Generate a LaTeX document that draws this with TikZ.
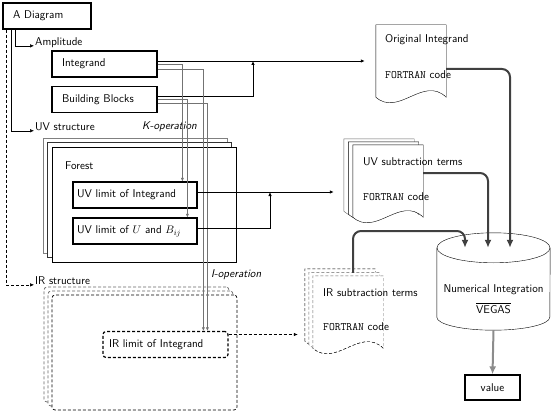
\documentclass[tikz,border=0pt]{standalone}
\usetikzlibrary{arrows.meta,calc}
\renewcommand{\familydefault}{\sfdefault}

% page with a wavy lower edge, drawn round a (page) node
\newcommand{\pageoutline}[2]{%
  \draw[#2] (#1.south west) -- (#1.north west) -- (#1.north east) -- (#1.south east)
    .. controls ($(#1.south east)+(-23,-22)$) and ($(#1.south west)+(23,20)$) .. (#1.south west) -- cycle;}
\newcommand{\pagewave}[2]{%
  \draw[#2] (#1.south east)
    .. controls ($(#1.south east)+(-23,-22)$) and ($(#1.south west)+(23,20)$) .. (#1.south west);}

\begin{document}
\begin{tikzpicture}[x=1pt, y=-1pt]
    \useasboundingbox (0,0) rectangle (552,412);
    \tikzstyle{every node}=[font=\fontsize{11.3}{13.5}\selectfont]
    \tikzstyle{box}=[draw, line width=1.2pt, minimum height=26pt, inner xsep=10pt, align=left]
    \tikzstyle{limbox}=[draw, line width=1.2pt, minimum height=26pt, inner xsep=4pt, align=left, fill=white]
    \tikzstyle{tag}=[anchor=west, inner sep=1pt]
    \tikzstyle{forest}=[minimum width=184pt, minimum height=115pt, inner sep=0pt, fill=white]
    \tikzstyle{irforest}=[minimum width=185pt, minimum height=115pt, inner sep=0pt, fill=white, densely dashed, line width=0.7pt, rounded corners=3pt]
    \tikzstyle{page}=[minimum width=70pt, minimum height=72pt, inner sep=0pt]
    \tikzstyle{wire}=[line width=0.8pt, -{Latex[length=4pt, width=3.5pt]}]
    \tikzstyle{thinwire}=[black!55, line width=0.5pt, -{Latex[length=3.5pt, width=3pt]}]
    \tikzstyle{fat}=[black!75, line width=2pt, rounded corners=8pt, -{Latex[length=8pt, width=7pt]}]

    % left column
    \node[box, text width=68pt] (diag) at (47,16) {A Diagram};
    \node[tag] (amp) at (34,43) {Amplitude};
    \node[box, text width=85pt] (integ) at (104.5,64) {Integrand};
    \node[box, text width=85pt] (blocks) at (104.5,99.5) {Building Blocks};
    \node[tag] (uvs) at (34,127) {UV structure};
    \node[tag] (kop) at (141,127) {\textit{K-operation}};

    \node[forest, draw=black!50] (uvfb) at (135,195.5) {};
    \node[forest, draw=black!80] (uvfm) at (139.5,200) {};
    \node[forest, draw] (uvf) at (144,204.5) {};
    \node[tag] (forestlbl) at (64,166) {Forest};
    \node[limbox, text width=116pt] (uvint) at (135,195) {UV limit of Integrand};
    \node[limbox, text width=116pt] (uvub) at (135,231) {UV limit of $U$ and $B_{ij}$};

    \node[tag] (irs) at (34,281) {IR structure};
    \node[tag] (iop) at (210,275) {\textit{I-operation}};
    \node[irforest, draw=black!60] (irfb) at (136.5,344.5) {};
    \node[irforest, draw=black!60] (irfm) at (140.5,348.5) {};
    \node[irforest, draw=black] (irf) at (144.5,352.5) {};
    \node[limbox, densely dashed, rounded corners=3pt, inner xsep=6pt, text width=113pt] (irint) at (165.5,344.5) {IR limit of Integrand};

    % code pages
    \node[page] (orig) at (411,61) {};
    \pageoutline{orig}{fill=white}
    \node[tag] (origtxt) at (384,40) {Original Integrand};
    \node[tag] (origcode) at (384,75) {\texttt{FORTRAN} code};

    \node[page] (uvdocb) at (379,175) {};
    \node[page] (uvdocm) at (383.5,178) {};
    \node[page] (uvdoc) at (388,181) {};
    \pageoutline{uvdocb}{fill=white, draw=black!60}
    \pageoutline{uvdocm}{fill=white}
    \pageoutline{uvdoc}{fill=white}
    \node[tag] (uvtxt) at (362,162) {UV subtraction terms};
    \node[tag] (uvcode) at (362,197) {\texttt{FORTRAN} code};

    \node[page] (irdocb) at (340,305) {};
    \node[page] (irdocm) at (344,308.5) {};
    \node[page] (irdoc) at (348,312) {};
    \pageoutline{irdocb}{fill=white, densely dashed}
    \pageoutline{irdocm}{fill=white, densely dashed, draw=black!60}
    \pageoutline{irdoc}{fill=white, densely dashed, draw=black!60}
    \pagewave{irdoc}{densely dashed}
    \node[tag] (irtxt) at (322,293) {IR subtraction terms};
    \node[tag] (ircode) at (322,327) {\texttt{FORTRAN} code};

    % integration and result
    \node[minimum width=113pt, minimum height=69pt, inner sep=0pt] (numint) at (493.5,282.5) {};
    \draw[fill=white] (numint.north west) -- (numint.south west)
        arc[start angle=180, end angle=360, x radius=56.5pt, y radius=13pt] -- (numint.north east);
    \draw (numint.north) ellipse [x radius=56.5pt, y radius=15pt];
    \node[align=center] (numtxt) at (493.5,299) {Numerical Integration\\[7pt]$\overline{\mbox{VEGAS}}$};
    \node[box, inner xsep=0pt, minimum width=55pt, minimum height=25pt] (val) at (492.5,387.5) {value};

    % connectors
    \draw[wire, line width=0.5pt] ([xshift=13pt]diag.south west) |- (amp.base west);
    \draw[wire, line width=0.5pt] ([xshift=9pt]diag.south west) |- (uvs.base west);
    \draw[wire, line width=0.5pt, densely dashed] ([xshift=4pt]diag.south west) |- (irs.base west);

    \coordinate (kjoin) at (253,61);
    \draw[wire, shorten >=11pt] ([yshift=3pt]integ.east) -- (kjoin -| orig.west);
    \draw[wire] ([yshift=3pt]blocks.east) -| (kjoin);

    \draw[thinwire] (integ.east) -| ([xshift=110pt]uvint.north west);
    \draw[thinwire] (blocks.east) -| ([xshift=115pt]uvub.north west);
    \draw[thinwire] ([yshift=-5pt]integ.east) -| ([xshift=101pt]irint.north west);
    \draw[thinwire] ([yshift=-4pt]blocks.east) -| ([xshift=105pt]irint.north west);

    \coordinate (uvjoin) at (270,192);
    \draw[wire, shorten >=19pt] ([yshift=3pt]uvint.east) -- (uvjoin -| uvdoc.west);
    \draw[wire] ([yshift=3pt]uvub.east) -| (uvjoin);

    \coordinate (irjoin) at (300,334.5);
    \draw[wire, line width=0.6pt, densely dashed, shorten >=15pt] ([yshift=10pt]irint.east) -- (irjoin -| irdoc.west);

    \draw[fat] ([yshift=-8pt]orig.east) -| ([xshift=16.5pt]numint.north);
    \draw[fat] ([yshift=8pt]uvdoc.east) -| ([xshift=-5.5pt]numint.north);
    \coordinate (irbend) at (400,231);
    \draw[fat] ([xshift=5pt, yshift=3pt]irdoc.north) |- (irbend) -| ([xshift=-28.5pt]numint.north);
    \draw[fat, black!45, rounded corners=0pt] ([yshift=-13pt]numint.south) -- (val.north);
\end{tikzpicture}
\end{document}
